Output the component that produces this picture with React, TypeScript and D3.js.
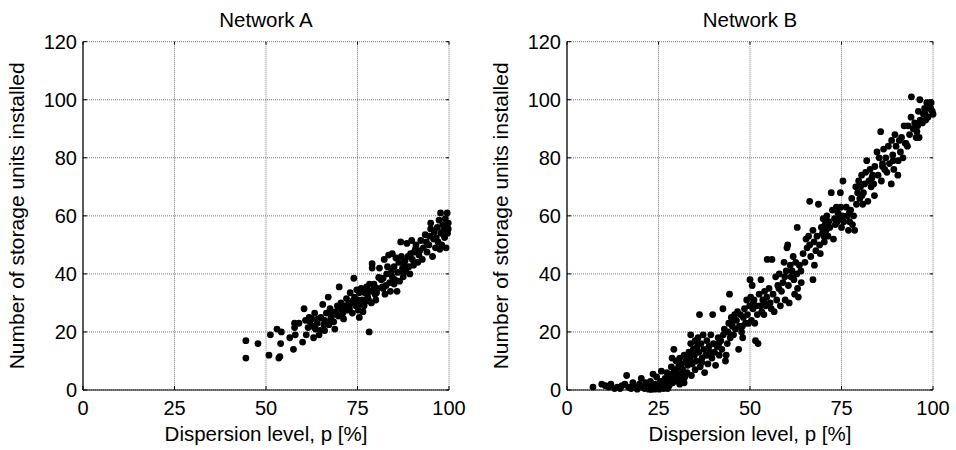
import React from "react";
import * as d3 from "d3";

const xTicks = [0, 25, 50, 75, 100];
const yTicks = [0, 20, 40, 60, 80, 100, 120];
const titles = ["Network A", "Network B"];
const xLabel = "Dispersion level, p [%]";
const yLabel = "Number of storage units installed";

// Network A: dispersion level p [%]
const netA_p = [
  44.5, 44.5, 47.8, 50.8, 51.2, 53, 53.5, 53.8, 54, 54.2, 56.5, 57.5, 57.8, 57.8, 58, 60, 60.4, 60.8, 61, 61.8,
  62, 62.5, 63, 63.3, 63.5, 64, 64.5, 64.8, 65, 65.5, 66, 66, 66.5, 67, 67.2, 67.5, 67.8, 68.5, 68.8, 69,
  69.5, 69.8, 70, 70.3, 70.5, 71, 71.2, 71.5, 72, 72.3, 72.8, 73, 73.3, 73.6, 74, 74.2, 74.5, 74.8, 75, 75.2,
  75.5, 75.5, 75.8, 76, 76.3, 76.5, 77, 77.2, 77.8, 78.2, 78.3, 78.5, 78.8, 79, 79, 79.5, 79.8, 80, 80.5, 81,
  81.5, 81.8, 82, 82.3, 82.5, 82.8, 83, 83.5, 83.8, 84, 84.3, 84.5, 84.5, 85, 85.2, 85.8, 86, 86.3, 86.5, 86.8,
  87, 87.3, 87.5, 88, 88.2, 88.5, 88.8, 89, 89.3, 89.8, 90, 90.3, 90.5, 91, 91.5, 92, 92.3, 92.7, 93, 93.5,
  94, 94.5, 95, 95, 95.5, 95.8, 96, 96.3, 96.8, 97, 97.3, 97.7, 97.8, 98, 98.3, 98.5, 98.8, 99, 99.2, 99.3,
  99.5, 99.6, 99.8, 99.8, 59, 62.8, 65.8, 68, 70.8, 73.8, 76.8, 77.5, 79.3, 80.8, 83.2, 85.5, 87.8, 89.5, 91.8, 93.8,
  96.5, 98.6, 97.5, 94.8, 90.8, 87.6, 85, 82, 80.2, 78, 75.3, 72.5, 69.3, 66.8, 64.2, 61.5,
];
// Network A: number of storage units installed
const netA_n = [
  17, 11, 16, 12, 19, 21, 11, 11.5, 16, 20, 18, 14, 23, 21.5, 19, 16.5, 28, 24, 19, 25,
  23.5, 24.5, 18, 26.5, 21, 23, 19, 20.5, 25, 29.5, 20.5, 24, 26.5, 32, 22.5, 28, 25, 23.5, 21, 27,
  29, 25.5, 35.5, 28.5, 30, 26.5, 24.5, 29, 31.5, 27.5, 28, 33.5, 30, 26.5, 38.5, 32, 29, 34.5, 31, 27.5,
  25, 33.5, 29.5, 35, 31, 27, 33.5, 30.5, 32, 20, 36.5, 34, 30, 43.5, 42, 36.5, 33, 31, 35, 42,
  38, 35.5, 38.5, 45, 33, 36, 40, 46.5, 37, 34, 41, 47, 39, 42.5, 38, 34, 40.5, 44, 37.5, 51,
  46, 42, 39, 44.5, 41, 50.5, 46, 42.5, 40, 51.5, 45, 43, 47.5, 50, 44, 48, 51.5, 45, 49, 53.5,
  47.5, 50, 55.5, 57.5, 46, 52, 54.5, 49, 56, 51, 58.5, 61, 54, 50, 57, 55, 52.5, 59, 49, 56.5,
  61, 54, 57.5, 55.5, 23, 22, 22.5, 26, 27.5, 30.8, 29, 35.5, 34.5, 38.8, 42.5, 45.5, 43, 47, 46.5, 51,
  52.5, 53.5, 48.5, 53, 48.5, 40.5, 36.5, 35, 33.5, 31, 30, 29.5, 26, 23.5, 24.5, 21.5,
];

// Network B: dispersion level p [%]
const netB_p = [
  7.1, 9.5, 10.5, 11.4, 12, 13, 13.8, 14.5, 15, 15.8, 16.3, 16.8, 17.5, 18, 18.6, 19.2, 19.8, 20.3, 20.6, 21.2,
  21.5, 22, 22.3, 22.8, 23.2, 23.5, 23.8, 24.2, 24.5, 24.8, 25.2, 25.5, 25.8, 26, 26.4, 26.8, 27, 27.3, 27.6, 27.9,
  28.2, 28.5, 28.7, 28.9, 29.2, 29.3, 29.6, 29.8, 30, 30.3, 23, 24, 25, 26.5, 27.5, 28, 30.8, 29, 31.5, 32,
  30.5, 30.8, 31, 31.3, 31.6, 32, 32.2, 32.5, 32.8, 33, 33.3, 33.5, 33.8, 33.8, 34, 34.2, 34.5, 34.8, 35, 35,
  35.3, 35.6, 35.8, 36, 36.2, 36.4, 36.6, 36.9, 37.2, 37.4, 37.6, 37.9, 38.2, 38.5, 38.8, 39, 39.3, 39.6, 39.8, 40,
  40.3, 40.6, 41, 41.3, 41.6, 42, 42.3, 42.7,
  42.6, 43, 43.3, 43.5, 43.8, 44, 44.2, 44.4, 44.6, 44.9, 45.2, 45.5, 45.8, 46, 46.3, 46.6, 46.9, 47.1, 47.4, 47.7,
  48, 48.2, 48.5, 48.8, 49.1, 49.3, 49.6, 49.9, 50, 50.2, 50.4, 50.6, 50.8, 51.1, 51.3, 51.5, 51.8, 52, 52.2, 52.5, 52.8,
  53, 53.2, 53.5, 53.8, 54, 54.3, 54.6, 54.7, 55.2, 55.5, 55.8, 56, 56.3, 56.6, 57, 57.3, 57.6, 58, 58.3, 58.6,
  59, 59.3, 59.6, 59.9, 60.1, 60.3, 60.5, 60.7, 61, 61.2, 61.5, 61.8, 62, 62.2, 62.5, 62.8, 63, 63.2, 63.5, 62.9, 64,
  64.5, 65, 65.3, 65.6, 66, 66.3, 66.3, 67.2, 67.2, 67.5, 67.6, 68, 68.3, 68.7, 69, 69.2, 69.5, 69.8, 70, 70.3,
  70.5, 70.8, 71, 71.3, 71.5, 71.8, 72.2, 72.5, 72.8, 73.1, 73.3, 73.6, 74, 74.7, 74.5, 74.8, 75, 75.3, 75.6, 75.4,
  76.3, 76.6, 76.9, 77.2, 77.5, 77.8, 78, 78.3, 78.6, 78.9, 79.1, 79.4, 79.7, 80, 80.2, 80.5, 80.8, 81, 81.3, 81.6,
  81.9, 82.2, 82.5, 82.8, 83.1, 83.5, 83.8, 84.1, 84, 84.7, 85, 85.3, 85.7, 85.9, 86.2, 86.5, 86.8, 87.1, 87.4, 87.8,
  88.1, 88.6, 88.7, 89, 89.3, 89.6, 89.9, 90.4, 90.5, 90.8, 91.1, 91.4, 91.8, 92.1, 92.4, 93, 93.2, 93.6, 94, 94.1,
  94.6, 95, 95.4, 95.6, 96, 96.2, 96.4, 96.5, 97.1, 97.4, 97.7, 98, 98.3, 98.6, 98.9, 99.1, 99.5, 99.8, 100,
  26.2, 28.4, 31.8, 33.6, 36.8, 38.4, 41.5, 45.6, 47.9, 50.9, 53.9, 57.9, 59.5, 63.9, 66.6, 70.2, 73.8, 77.1, 80.6, 83.3,
  86.2, 89.1, 92.6, 95.8, 97.9, 99.4,
];
// Network B: number of storage units installed
const netB_n = [
  1, 2, 1.5, 1, 2, 0.5, 1, 0.5, 1.5, 2, 5, 1, 0.5, 2.5, 1, 0.3, 2, 4, 1, 0.5,
  2.5, 1, 0.3, 3, 1, 5.5, 0.5, 2, 4.5, 1, 0.3, 3, 6.5, 1.5, 0.5, 4, 2, 6, 3, 1.5,
  5, 8, 11, 2.5, 14, 7, 4, 10, 6, 3, 0.2, 0.3, 1, 2.5, 0.5, 3.5, 2, 4.5, 4, 2.5,
  8, 11, 5, 9, 7, 12, 4.5, 10, 6, 8.5, 13, 11, 16, 19, 5, 9, 14, 12, 17, 7,
  10, 15, 18, 13, 26, 8, 16, 11, 19, 14, 6, 12, 17, 9, 15, 13, 19, 11, 26, 16,
  13, 8.5, 15, 18, 12, 17, 14, 19,
  28, 21, 10, 12, 16, 20, 23, 33, 18, 25, 22, 19, 26, 21, 24, 27, 14, 22, 26, 20,
  18, 25, 28, 23, 31, 26, 23, 29, 38, 32, 24, 36, 28, 31, 23, 17, 29, 26, 16, 33, 29,
  38, 27, 31, 26, 34, 29, 32, 45, 35, 30, 28, 45, 33, 27, 39, 31, 36, 40, 29, 34,
  37, 44, 31, 41, 49, 50, 36, 30, 43, 39, 41, 46, 38, 33, 44, 40, 35, 32, 43, 56, 37,
  47, 44, 52, 49, 53, 50, 65, 38, 55, 51, 43, 48, 53, 64, 50, 47, 56, 54, 59, 51,
  57, 55, 60, 53, 58, 56, 68, 62, 52, 59, 57, 63, 61, 68, 59, 63, 56, 60, 58, 72,
  63, 60, 55, 58, 62, 66, 57, 60, 55, 70, 64, 68, 72, 66, 70, 74, 64, 68, 71, 75,
  79, 65, 72, 76, 70, 74, 71, 77, 67, 82, 74, 80, 89, 72, 78, 83, 76, 80, 75, 84,
  78, 71, 86, 81, 76, 88, 84, 74, 79, 86, 82, 87, 80, 91, 85, 84, 91, 88, 94, 101,
  90, 92, 87, 89, 96, 87, 100, 93, 92, 95, 97, 93, 99, 94, 97, 99, 99, 96, 95,
  3, 5.5, 6, 10, 9.5, 12, 16, 24, 22, 30, 30, 35, 39, 41, 46, 53, 58, 61, 67, 73,
  77, 79, 85, 91, 95, 97,
];

const W = 956;
const H = 450;
const panels = [
  { left: 83, right: 449, title: titles[0], px: netA_p, py: netA_n },
  { left: 567, right: 933, title: titles[1], px: netB_p, py: netB_n },
];
const TOP = 41.7;
const BOTTOM = 390;
const FONT = "Liberation Sans, Arial, sans-serif";

function Panel({ left, right, title, px, py }: any) {
  const x = d3.scaleLinear().domain([0, 100]).range([left, right]);
  const y = d3.scaleLinear().domain([0, 120]).range([BOTTOM, TOP]);
  const cx = (left + right) / 2;
  const cy = (TOP + BOTTOM) / 2;
  return (
    <g>
      {xTicks.map((t) => (
        <line key={"gx" + t} x1={x(t)} x2={x(t)} y1={TOP} y2={BOTTOM} stroke="#7a7a7a" strokeWidth={1} strokeDasharray="1 1" />
      ))}
      {yTicks.map((t) => (
        <line key={"gy" + t} x1={left} x2={right} y1={y(t)} y2={y(t)} stroke="#7a7a7a" strokeWidth={1} strokeDasharray="1 1" />
      ))}
      {xTicks.map((t) => (
        <g key={"tx" + t}>
          <line x1={x(t)} x2={x(t)} y1={BOTTOM} y2={BOTTOM - 4} stroke="#000" />
          <line x1={x(t)} x2={x(t)} y1={TOP} y2={TOP + 3} stroke="#000" />
        </g>
      ))}
      {yTicks.map((t) => (
        <g key={"ty" + t}>
          <line x1={left} x2={left + 4} y1={y(t)} y2={y(t)} stroke="#000" />
          <line x1={right} x2={right - 3} y1={y(t)} y2={y(t)} stroke="#000" />
        </g>
      ))}
      <line x1={left} x2={left} y1={TOP} y2={BOTTOM} stroke="#000" strokeWidth={1.2} />
      <line x1={left} x2={right} y1={BOTTOM} y2={BOTTOM} stroke="#000" strokeWidth={1.2} />
      {px.map((v: number, i: number) => (
        <circle key={"p" + i} cx={x(v)} cy={y(py[i])} r={3.4} fill="#000" />
      ))}
      {xTicks.map((t) => (
        <text key={"lx" + t} x={x(t)} y={415} textAnchor="middle" fontSize={20} fontFamily={FONT} fill="#000">
          {t}
        </text>
      ))}
      {yTicks.map((t) => (
        <text key={"ly" + t} x={left - 6} y={y(t) + 7} textAnchor="end" fontSize={20} fontFamily={FONT} fill="#000">
          {t}
        </text>
      ))}
      <text x={cx} y={27} textAnchor="middle" fontSize={20.5} fontFamily={FONT} fill="#000">
        {title}
      </text>
      <text x={cx} y={441} textAnchor="middle" fontSize={20.5} fontFamily={FONT} fill="#000">
        {xLabel}
      </text>
      <text
        transform={`translate(${left - 59},${cy}) rotate(-90)`}
        textAnchor="middle"
        fontSize={21}
        fontFamily={FONT}
        fill="#000"
      >
        {yLabel}
      </text>
    </g>
  );
}

export default function App() {
  return (
    <svg width={W} height={H} style={{ position: "absolute", left: 0, top: 0, background: "#fff" }}>
      <rect width={W} height={H} fill="#fff" />
      {panels.map((p, i) => (
        <Panel key={i} {...p} />
      ))}
    </svg>
  );
}
